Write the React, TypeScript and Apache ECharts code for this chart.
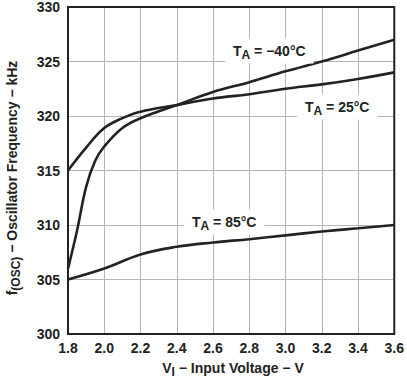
import React, { useEffect, useRef } from "react";
import * as echarts from "echarts";

const voltsM40 = [1.8, 1.85, 1.9, 1.95, 2.0, 2.1, 2.2, 2.4, 2.6, 2.8, 3.0, 3.2, 3.4, 3.6];
const freqM40 = [306, 309.5, 313.5, 315.9, 317.2, 318.9, 319.8, 321, 322.2, 323.1, 324.1, 325.0, 326.0, 327];
const volts25 = [1.8, 1.9, 2.0, 2.1, 2.2, 2.4, 2.6, 2.8, 3.0, 3.2, 3.4, 3.6];
const freq25 = [315, 317.1, 318.9, 319.8, 320.4, 321, 321.6, 322.0, 322.5, 322.9, 323.4, 324];
const volts85 = [1.8, 2.0, 2.2, 2.4, 2.6, 2.8, 3.0, 3.2, 3.4, 3.6];
const freq85 = [305, 306, 307.3, 308, 308.4, 308.7, 309.05, 309.4, 309.7, 310];
const seriesNames = ["TA = -40°C", "TA = 25°C", "TA = 85°C"];

const FONT = "'Liberation Sans', Arial, sans-serif";
const INK = "#222";

function pairs(xs: number[], ys: number[]) {
  return xs.map((x, i) => [x, ys[i]]);
}

const labelRich = {
  b: { fontFamily: FONT, fontWeight: "bold", fontSize: 14, fill: INK, color: INK },
  s: { fontFamily: FONT, fontWeight: "bold", fontSize: 12, fill: INK, color: INK, padding: [7, 0, 0, 0] },
};

function tempLabel(x: number, y: number, temp: string) {
  return {
    type: "text",
    x,
    y,
    z: 100,
    style: {
      text: `{b|T}{s|A}{b| = ${temp}°C}`,
      rich: labelRich,
      backgroundColor: "#fff",
      padding: [3, 8, 3, 8],
      verticalAlign: "middle",
      fontFamily: FONT,
    },
  };
}

export default function App() {
  const ref = useRef<HTMLDivElement>(null);
  useEffect(() => {
    if (!ref.current) return;
    const chart = echarts.init(ref.current, null, { renderer: "svg" });
    const lineStyle = { color: INK, width: 2.6 };
    chart.setOption({
      animation: false,
      grid: {
        left: 68,
        right: 9,
        top: 5,
        bottom: 44,
        show: true,
        borderColor: INK,
        borderWidth: 2,
        z: 10,
      },
      xAxis: {
        type: "value",
        min: 1.8,
        max: 3.6,
        interval: 0.2,
        axisLine: { show: false },
        axisTick: { show: false },
        splitLine: { show: true, lineStyle: { color: "#b5b5b5", width: 1 } },
        axisLabel: {
          margin: 7,
          fontFamily: FONT,
          fontWeight: "bold",
          fontSize: 14,
          color: INK,
          formatter: (v: number) => v.toFixed(1),
        },
      },
      yAxis: {
        type: "value",
        min: 300,
        max: 330,
        interval: 5,
        axisLine: { show: false },
        axisTick: { show: false },
        splitLine: { show: true, lineStyle: { color: "#b5b5b5", width: 1 } },
        axisLabel: {
          margin: 8,
          fontFamily: FONT,
          fontWeight: "bold",
          fontSize: 14,
          color: INK,
        },
      },
      series: [
        { name: seriesNames[0], type: "line", data: pairs(voltsM40, freqM40), smooth: 0.4, showSymbol: false, lineStyle },
        { name: seriesNames[1], type: "line", data: pairs(volts25, freq25), smooth: 0.4, showSymbol: false, lineStyle },
        { name: seriesNames[2], type: "line", data: pairs(volts85, freq85), smooth: 0.4, showSymbol: false, lineStyle },
      ],
      graphic: [
        tempLabel(225, 51, "\u221240"),
        tempLabel(297, 107, "25"),
        tempLabel(184, 222, "85"),
        {
          type: "text",
          x: 233,
          y: 368,
          style: {
            text: "{b|V}{s|I}{b| \u2212 Input Voltage \u2212 V}",
            rich: labelRich,
            align: "center",
            verticalAlign: "middle",
          },
        },
        {
          type: "text",
          x: 12,
          y: 178,
          rotation: Math.PI / 2,
          style: {
            text: "{b|f}{s|(OSC)}{b| \u2212 Oscillator Frequency \u2212 kHz}",
            rich: labelRich,
            align: "center",
            verticalAlign: "middle",
          },
        },
      ],
    });
    return () => chart.dispose();
  }, []);
  return <div ref={ref} style={{ position: "absolute", left: 0, top: 0, width: 407, height: 378 }} />;
}
